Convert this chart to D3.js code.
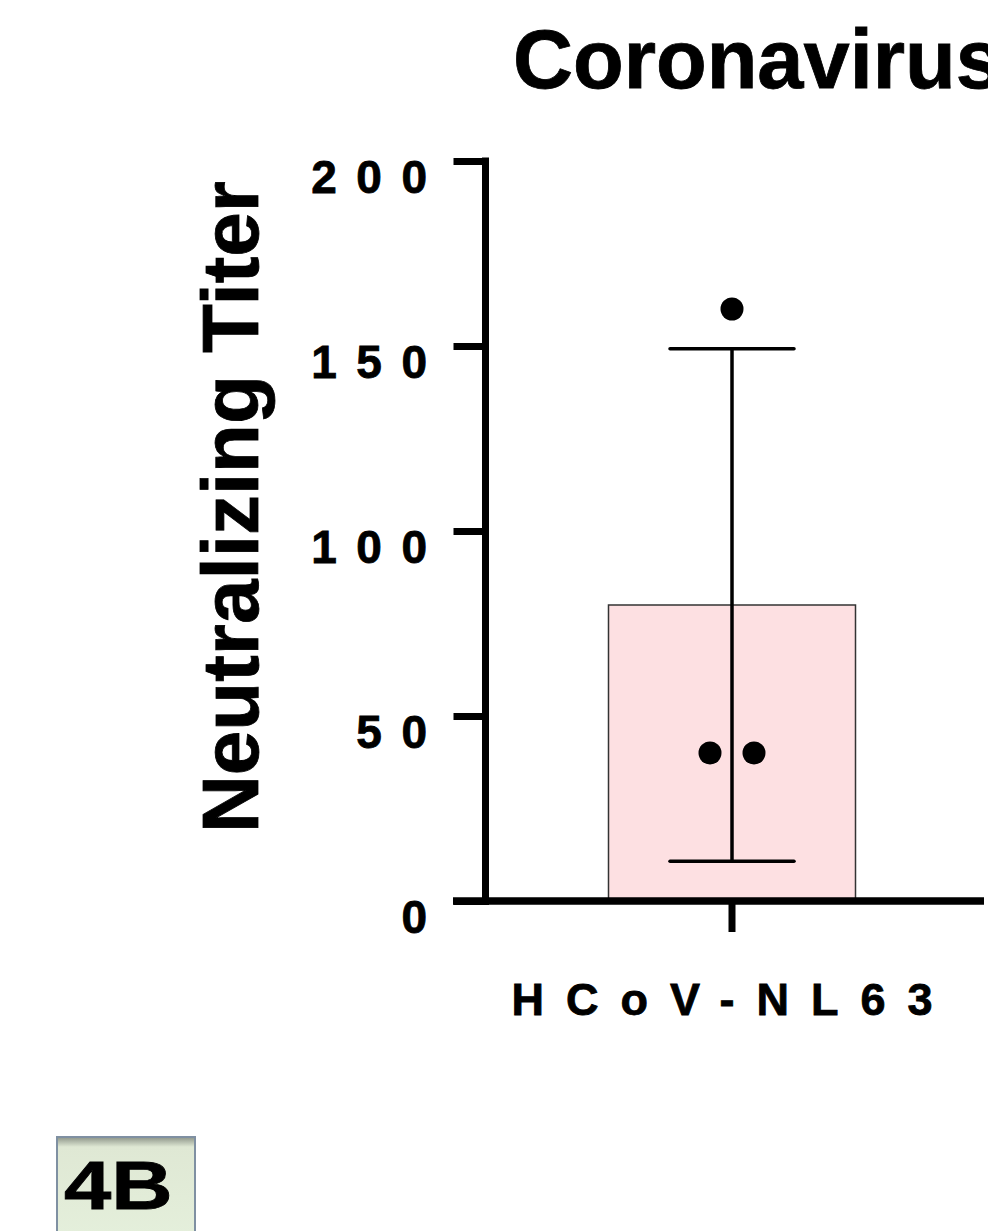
<!DOCTYPE html>
<html>
<head>
<meta charset="utf-8">
<script src="https://cdn.jsdelivr.net/npm/d3@7"></script>
<style>
  body { margin: 0; background: #fff; }
  text { font-family: "Liberation Sans", Arial, sans-serif; font-weight: bold; fill: #000; stroke: #000; stroke-width: 0.8px; }
</style>
</head>
<body>
<script>
var categories = ["HCoV-NL63"];
var titers = [160, 40, 40];
var yTicks = [0, 50, 100, 150, 200];

var width = 988,
    height = 1231;

var svg = d3.select("body").append("svg")
    .attr("width", width)
    .attr("height", height);

var y = d3.scaleLinear()
    .domain([0, 200])
    .range([901, 161]);

var x = d3.scaleBand()
    .domain(categories)
    .range([485, 979])
    .paddingInner(0)
    .paddingOuter(0.5);

var mean = d3.mean(titers),
    sd = d3.deviation(titers),
    cx = x(categories[0]) + x.bandwidth() / 2;

// title (the original is cut at the right edge too)
svg.append("text")
    .attr("x", 513)
    .attr("y", 88)
    .style("font-size", "83px")
    .text("Coronavirus");

// bar
svg.append("rect")
    .attr("x", x(categories[0]))
    .attr("y", y(mean))
    .attr("width", x.bandwidth())
    .attr("height", y(0) - y(mean))
    .attr("fill", "#fde0e2")
    .attr("stroke", "#333")
    .attr("stroke-width", 1.5);

// error bar, mean +/- SD
var eb = svg.append("g").attr("stroke", "#000").attr("stroke-width", 3.5);
eb.append("line")
    .attr("x1", cx).attr("x2", cx)
    .attr("y1", y(mean + sd)).attr("y2", y(mean - sd));
[mean + sd, mean - sd].forEach(function(v) {
  eb.append("line")
      .attr("x1", cx - 62).attr("x2", cx + 62)
      .attr("y1", y(v)).attr("y2", y(v))
      .attr("stroke-linecap", "round");
});

// points, duplicates placed side by side
var counts = {}, seen = {};
titers.forEach(function(v) { counts[v] = (counts[v] || 0) + 1; });
var pts = titers.map(function(v) {
  var k = seen[v] || 0;
  seen[v] = k + 1;
  return { v: v, off: (k - (counts[v] - 1) / 2) * 44 };
});
svg.selectAll("circle.pt")
    .data(pts)
  .enter().append("circle")
    .attr("class", "pt")
    .attr("cx", function(d) { return cx + d.off; })
    .attr("cy", function(d) { return y(d.v); })
    .attr("r", 11.5)
    .attr("fill", "#000");

// y axis
var yAxis = svg.append("g")
    .attr("transform", "translate(485.5,0)")
    .call(d3.axisLeft(y).tickValues(yTicks).tickSize(32).tickSizeOuter(0).tickFormat(d3.format("d")));
yAxis.select(".domain")
    .attr("stroke-width", 7)
    .attr("d", "M0," + (y(200) - 3.5) + "V" + y(0));
yAxis.selectAll(".tick line").attr("stroke-width", 7).attr("x1", 3.5);
yAxis.selectAll(".tick text")
    .attr("x", -39)
    .attr("dy", 31)
    .style("font-size", "46px")
    .style("letter-spacing", "19.5px")
    .attr("fill", "#000");

// x axis
svg.append("line")
    .attr("x1", 453).attr("x2", 984)
    .attr("y1", y(0)).attr("y2", y(0))
    .attr("stroke", "#000")
    .attr("stroke-width", 7.5);
var xAxis = svg.append("g")
    .attr("transform", "translate(0," + y(0) + ")")
    .call(d3.axisBottom(x).tickSize(31).tickSizeOuter(0));
xAxis.select(".domain").remove();
xAxis.selectAll(".tick line").attr("stroke-width", 7);
xAxis.selectAll(".tick text").remove();

var xl = svg.append("text")
    .attr("y", 1015)
    .style("font-size", "45px")
    .style("letter-spacing", "22px")
    .text(categories[0]);
var xlw = xl.node().getComputedTextLength() - 22;
xl.attr("x", cx - 10 - xlw / 2);

// y axis title
svg.append("text")
    .attr("transform", "translate(258,507) rotate(-90)")
    .attr("text-anchor", "middle")
    .style("font-size", "80px")
    .text("Neutralizing Titer");

// panel label
var defs = svg.append("defs");
var grad = defs.append("linearGradient")
    .attr("id", "boxg")
    .attr("x1", 0).attr("y1", 0).attr("x2", 0).attr("y2", 1);
grad.append("stop").attr("offset", "0").attr("stop-color", "#8c9488");
grad.append("stop").attr("offset", "0.09").attr("stop-color", "#dfe8d4");
grad.append("stop").attr("offset", "1").attr("stop-color", "#e5f0dc");

svg.append("rect")
    .attr("x", 57)
    .attr("y", 1137)
    .attr("width", 138)
    .attr("height", 110)
    .attr("fill", "url(#boxg)")
    .attr("stroke", "#7f90a2")
    .attr("stroke-width", 2);
svg.append("text")
    .attr("transform", "translate(64,1209) scale(1.25,1)")
    .style("font-size", "68px")
    .text("4B");
</script>
</body>
</html>
